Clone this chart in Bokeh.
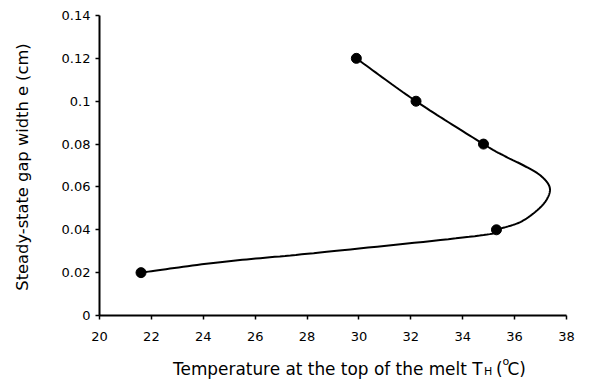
import numpy as np
from bokeh.plotting import figure
from bokeh.models import Range1d, FixedTicker, Label
from bokeh.embed import file_html
from bokeh.resources import INLINE

# measured points (markers)
temp_pts = [29.9, 32.2, 34.8, 35.3, 21.6]
gap_pts = [0.12, 0.10, 0.08, 0.04, 0.02]

# smooth curve through the picture
curve_T = [29.9, 32.2, 34.8, 35.57, 36.35, 37.0, 37.35, 37.25, 36.86, 36.2, 35.3, 34.65, 28.5, 24.65, 21.6]
curve_e = [0.12, 0.10, 0.08, 0.0747, 0.070, 0.0653, 0.0599, 0.0544, 0.049, 0.0435, 0.040, 0.0373, 0.0294, 0.0249, 0.02]

x_ticks = [20, 22, 24, 26, 28, 30, 32, 34, 36, 38]
y_ticks = [0, 0.02, 0.04, 0.06, 0.08, 0.1, 0.12, 0.14]
y_tick_labels = ["0", "0.02", "0.04", "0.06", "0.08", "0.1", "0.12", "0.14"]

FONT = "DejaVu Sans"
W, H = 593, 382
L, R, T, B = 99, 27, 15, 67
X0, X1, Y0, Y1 = 20, 38, 0, 0.14
sx = (W - L - R) / (X1 - X0)
sy = (H - T - B) / (Y1 - Y0)

p = figure(width=W, height=H, output_backend="svg", toolbar_location=None,
           x_range=Range1d(X0 - L / sx, X1 + R / sx), y_range=Range1d(Y0 - B / sy, Y1 + T / sy),
           min_border=0)
p.outline_line_color = None
p.grid.grid_line_color = None
p.background_fill_color = "white"
p.border_fill_color = "white"


def px2x(px):
    return X0 + (px - L) / sx


def py2y(py):
    return (H - B - py) / sy


def catmull_rom(xs, ys, n=20):
    P = np.column_stack([np.array(xs) * sx, np.array(ys) * sy])
    P = np.vstack([P[0], P, P[-1]])
    out = []
    for i in range(1, len(P) - 2):
        p0, p1, p2, p3 = P[i - 1], P[i], P[i + 1], P[i + 2]
        t = np.linspace(0, 1, n, endpoint=False)[:, None]
        seg = 0.5 * ((2 * p1) + (-p0 + p2) * t + (2 * p0 - 5 * p1 + 4 * p2 - p3) * t ** 2
                     + (-p0 + 3 * p1 - 3 * p2 + p3) * t ** 3)
        out.append(seg)
    out.append(P[-2][None, :])
    arr = np.vstack(out)
    return arr[:, 0] / sx, arr[:, 1] / sy


cx, cy = catmull_rom(curve_T, curve_e)
p.line(cx, cy, line_color="black", line_width=2)
p.scatter(temp_pts, gap_pts, size=10, fill_color="black", line_color="black")

for ax in (p.xaxis[0], p.yaxis[0]):
    ax.axis_line_width = 2
    ax.major_tick_line_width = 1.5
    ax.major_tick_in = 0
    ax.major_tick_out = 4
    ax.minor_tick_line_color = None
    ax.major_label_text_font = FONT
    ax.major_label_text_font_size = "13px"
    ax.major_label_text_color = "black"

p.xaxis.fixed_location = Y0
p.yaxis.fixed_location = X0
p.xaxis.bounds = (X0, X1)
p.yaxis.bounds = (Y0, Y1)
p.xaxis.ticker = FixedTicker(ticks=x_ticks)
p.yaxis.ticker = FixedTicker(ticks=y_ticks)
p.yaxis.major_label_overrides = {t: s for t, s in zip(y_ticks, y_tick_labels)}
p.xaxis.major_label_standoff = 12
p.yaxis.major_label_standoff = 5


def add_text(txt, px, py, fs, align="left", angle=0.0):
    p.add_layout(Label(x=px2x(px), y=py2y(py), text=txt, text_font=FONT, text_font_size=fs,
                       text_color="black", text_baseline="alphabetic", text_align=align,
                       angle=angle))


SH = 6.5  # empirical baseline correction
# y-axis title (rotated)
add_text("Steady-state gap width e (cm)", 28.8 - SH, 166.5, "16.3px", align="center", angle=np.pi / 2)

# x-axis title with subscript / superscript
add_text("Temperature at the top of the melt T", 482.0, 374.5 - SH, "16.9px", align="right")
add_text("H", 483.5, 377.7 - SH, "11px")
add_text("(", 495.5, 374.5 - SH, "16.9px")
add_text("o", 502.0, 367.7 - SH, "11px")
add_text("C)", 507.0, 374.5 - SH, "16.9px")

open("out.html", "w").write(file_html(p, INLINE))
